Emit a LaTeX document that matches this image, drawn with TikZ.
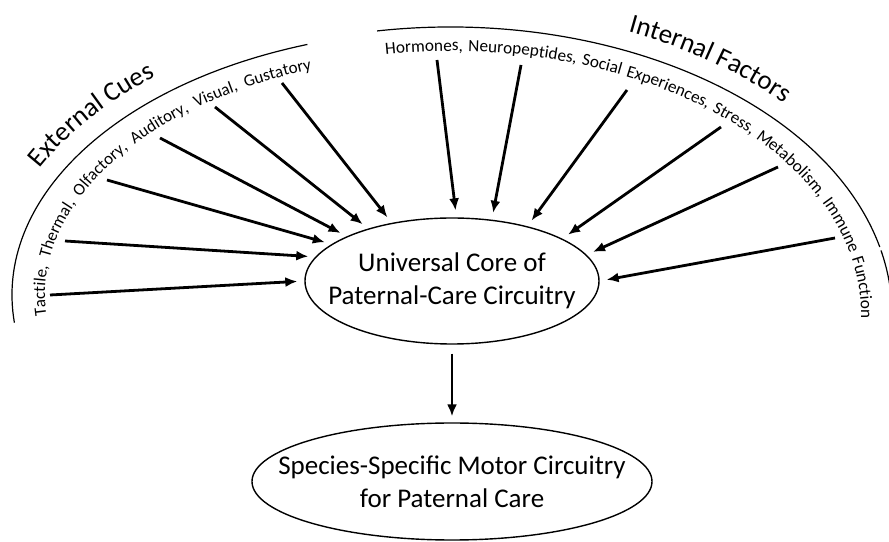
\documentclass[tikz,border=0pt]{standalone}
\usepackage{fontspec}
\setmainfont{Carlito}
\usetikzlibrary{arrows.meta,decorations.text,shapes.geometric}

\begin{document}
\begin{tikzpicture}[x=1pt, y=1pt, >={Latex[length=12pt,width=10pt]},
    oval/.style={draw, ellipse, line width=1.4pt, align=center, inner ysep=0pt, inner xsep=-60pt, font=\fontsize{27}{33}\selectfont},
    feed/.style={->, line width=2.8pt, shorten >=7pt},
    rim/.style={line width=1.2pt}]
\useasboundingbox (0,0) rectangle (889,541);

% the two circuits
\node[oval, minimum width=294pt, minimum height=126pt] (core) at (452,260) {Universal Core of\\Paternal-Care Circuitry};
\node[oval, minimum width=400pt, minimum height=117pt] (motor) at (452,59.5) {Species-Specific Motor Circuitry\\for Paternal Care};

% outer rims
\draw[rim] ([shift={(450,246)}]186:438pt and 265pt) arc[start angle=186, end angle=109, x radius=438pt, y radius=265pt];
\draw[rim] ([shift={(450,227)}]99.5:442pt and 287pt) arc[start angle=99.5, end angle=13.5, x radius=442pt, y radius=287pt];
\draw[rim] ([shift={(450,227)}]12.8:442pt and 287pt) arc[start angle=12.8, end angle=-1.5, x radius=442pt, y radius=287pt];

% headings outside the rims
\path[decorate, decoration={text along path, text align=center, text={|\fontsize{27}{31}\selectfont|External Cues}}]
    ([shift={(450,246)}]160:458pt and 285pt) arc[start angle=160, end angle=125, x radius=458pt, y radius=285pt];
\path[decorate, decoration={text along path, text align=center, text={|\fontsize{27}{31}\selectfont|Internal Factors}}]
    ([shift={(450,227)}]72:461pt and 306pt) arc[start angle=72, end angle=38, x radius=461pt, y radius=306pt];

% lists inside the rims
\path[decorate, decoration={text along path, text align=fit to path stretching spaces, text={|\fontsize{17}{20}\selectfont|Tactile, Thermal, Olfactory, Auditory, Visual, Gustatory}}]
    ([shift={(450,246)}]185:405pt and 240pt) arc[start angle=185, end angle=110, x radius=405pt, y radius=240pt];
\path[decorate, decoration={text along path, text align=fit to path stretching spaces, text={|\fontsize{17.2}{20}\selectfont|Hormones, Neuropeptides, Social Experiences, Stress, Metabolism, Immune Function}}]
    ([shift={(450,227)}]99:411pt and 263pt) arc[start angle=99, end angle=-1, x radius=411pt, y radius=263pt];

\coordinate (tactile) at (50,246);
\coordinate (thermal) at (65,300);
\coordinate (olfactory) at (107,361);
\coordinate (auditory) at (160,403);
\coordinate (visual) at (215,434);
\coordinate (gustatory) at (282,458);
\coordinate (hormones) at (437,481);
\coordinate (neuropep) at (521,476);
\coordinate (social) at (627,451);
\coordinate (stress) at (721,414);
\coordinate (metab) at (778,374);
\coordinate (immune) at (835,303);

\draw[feed] (tactile) -- (core.180);
\draw[feed] (thermal) -- (core.170);
\draw[feed] (olfactory) -- (core.163.5);
\draw[feed] (auditory) -- (core.157);
\draw[feed] (visual) -- (core.148);
\draw[feed] (gustatory) -- (core.136);
\draw[feed] (hormones) -- (core.86);
\draw[feed] (neuropep) -- (core.57);
\draw[feed] (social) -- (core.36.5);
\draw[feed] (stress) -- (core.21.6);
\draw[feed] (metab) -- (core.11);
\draw[feed] (immune) -- (core.0);

\draw[feed, shorten <=9pt, shorten >=6pt] (core) -- (motor);
\end{tikzpicture}
\end{document}
